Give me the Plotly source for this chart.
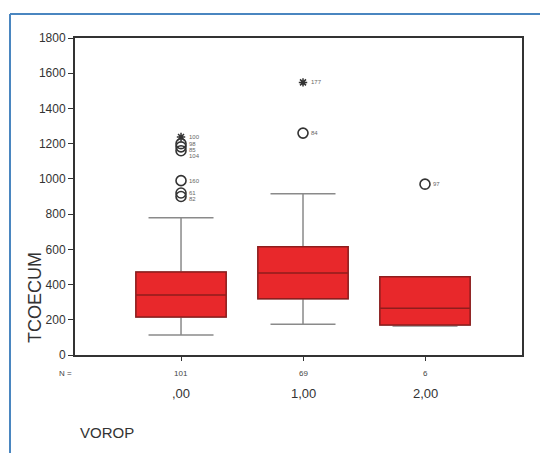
import plotly.graph_objects as go

categories = [",00", "1,00", "2,00"]
n_counts = ["101", "69", "6"]
q1 = [216, 320, 170]
medians = [341, 465, 265]
q3 = [471, 615, 445]
lower_whisker = [114, 175, 165]
upper_whisker = [780, 915, 445]

# outliers (circles): group index, value, case label
outlier_group = [0, 0, 0, 0, 0, 0, 1, 2]
outlier_value = [1200, 1182, 1160, 990, 920, 900, 1260, 970]
outlier_label = ["98", "85", "104", "160", "61", "82", "84", "97"]
# extremes (stars)
extreme_group = [0, 1]
extreme_value = [1238, 1548]
extreme_label = ["100", "177"]

OFF = 8  # page body margin
W, H = 548 - OFF, 453 - OFF
L, R, T, B = 75 - OFF, 26, 38 - OFF, 98
pw, ph = W - L - R, H - T - B
YMAX = 1800

def px(x):
    return (x - OFF - L) / pw

def py(y):
    return (H - B - (y - OFF)) / ph

fig = go.Figure()
xs = list(range(len(categories)))
fig.add_trace(go.Box(
    x=xs, q1=q1, median=medians, q3=q3,
    lowerfence=lower_whisker, upperfence=upper_whisker,
    width=0.74, whiskerwidth=0.72,
    fillcolor="rgba(0,0,0,0)", line=dict(color="#8a8a8a", width=1.5),
    boxpoints=False, hoverinfo="skip", showlegend=False,
))
fig.add_trace(go.Box(
    x=xs, q1=q1, median=medians, q3=q3,
    lowerfence=q1, upperfence=q3,
    width=0.74, whiskerwidth=0,
    fillcolor="#e8282b", line=dict(color="#8f1d1d", width=1.5),
    boxpoints=False, showlegend=False,
))
fig.add_trace(go.Scatter(
    x=outlier_group, y=outlier_value, mode="markers",
    marker=dict(symbol="circle-open", size=10, color="#333333", line=dict(width=1.6)),
    showlegend=False,
))
fig.add_trace(go.Scatter(
    x=extreme_group, y=extreme_value, mode="markers",
    marker=dict(symbol="asterisk-open", size=7, color="#333333", line=dict(width=1.5)),
    showlegend=False,
))

annotations = []
# case labels, spread vertically so they do not overlap
pts = [(g, v, lab) for g, v, lab in zip(outlier_group, outlier_value, outlier_label)]
pts += [(g, v, lab) for g, v, lab in zip(extreme_group, extreme_value, extreme_label)]
unit = ph / YMAX
for g in sorted(set(p[0] for p in pts)):
    grp = sorted([p for p in pts if p[0] == g], key=lambda p: -p[1])
    last = None
    for _, v, lab in grp:
        ypix = -v * unit
        if last is not None and ypix < last + 6:
            ypix = last + 6
        last = ypix
        shift = -(ypix + v * unit)
        annotations.append(dict(x=g, y=v, xref="x", yref="y", text=lab, showarrow=False,
                                xanchor="left", yanchor="middle", xshift=6, yshift=shift,
                                font=dict(size=6, color="#666666")))

annotations.append(dict(x=px(65), y=py(373), xref="paper", yref="paper", text="N =",
                        showarrow=False, xanchor="center", yanchor="middle",
                        font=dict(size=8, color="#444444")))
for i in xs:
    annotations.append(dict(x=i, y=py(373), xref="x", yref="paper", text=n_counts[i],
                            showarrow=False, xanchor="center", yanchor="middle",
                            font=dict(size=8, color="#444444")))
    annotations.append(dict(x=i, y=py(393), xref="x", yref="paper", text=categories[i],
                            showarrow=False, xanchor="center", yanchor="middle",
                            font=dict(size=13, color="#333333")))
annotations.append(dict(x=px(78), y=py(432), xref="paper", yref="paper", text="VOROP",
                        showarrow=False, xanchor="left", yanchor="middle",
                        font=dict(size=15, color="#333333")))
annotations.append(dict(x=px(35), y=py(298), xref="paper", yref="paper", text="TCOECUM",
                        showarrow=False, xanchor="center", yanchor="middle", textangle=-90,
                        font=dict(size=18, color="#333333")))

fig.update_layout(
    width=W, height=H,
    margin=dict(l=L, r=R, t=T, b=B, pad=0),
    paper_bgcolor="white", plot_bgcolor="white",
    font=dict(family="Liberation Sans, Arial, sans-serif", color="#333333"),
    annotations=annotations,
    xaxis=dict(range=[-0.869, 2.795], tickvals=xs, ticktext=["", "", ""],
               ticks="outside", ticklen=4, tickcolor="#333333",
               showline=True, linecolor="#333333", linewidth=2, mirror=True,
               showgrid=False, zeroline=False),
    yaxis=dict(range=[0, YMAX], dtick=200, ticks="outside", ticklen=5,
               tickcolor="#333333", tickfont=dict(size=12, color="#333333"),
               showline=True, linecolor="#333333", linewidth=2, mirror=True,
               showgrid=False, zeroline=False),
    shapes=[
        dict(type="line", xref="paper", yref="paper", x0=px(10), x1=px(560), y0=py(14), y1=py(14),
             line=dict(color="#4a86c0", width=2)),
        dict(type="line", xref="paper", yref="paper", x0=px(10), x1=px(10), y0=py(14), y1=py(470),
             line=dict(color="#4a86c0", width=2)),
    ],
)

fig.write_html("out.html")
